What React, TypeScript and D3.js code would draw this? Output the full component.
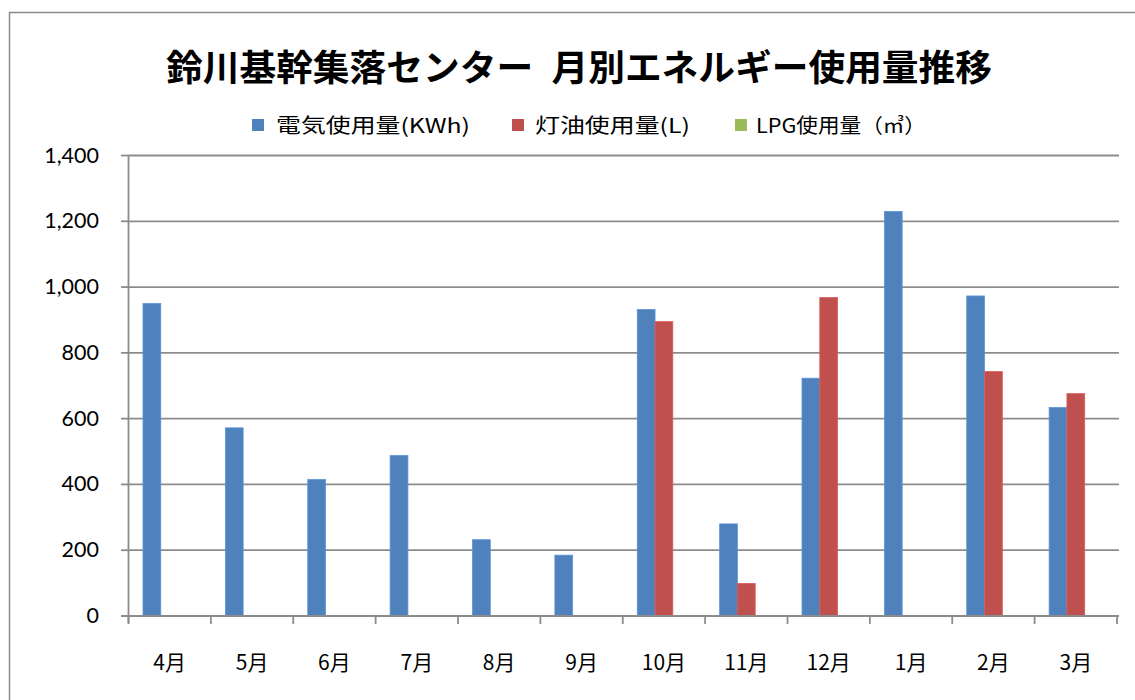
import React from "react";
import * as d3 from "d3";

const title = "鈴川基幹集落センター\u2002月別エネルギー使用量推移";
const months = ["4月", "5月", "6月", "7月", "8月", "9月", "10月", "11月", "12月", "1月", "2月", "3月"];
const seriesNames = ["電気使用量(KWh)", "灯油使用量(L)", "LPG使用量（㎥）"];
const seriesColors = ["#4F81BD", "#C0504D", "#9BBB59"];
const electricity = [950, 572, 415, 488, 232, 185, 932, 280, 723, 1230, 973, 634];
const kerosene = [0, 0, 0, 0, 0, 0, 895, 99, 968, 0, 743, 676];
const lpg = [0, 0, 0, 0, 0, 0, 0, 0, 0, 0, 0, 0];
const yTicks = [0, 200, 400, 600, 800, 1000, 1200, 1400];

const W = 1135;
const H = 700;
const left = 128.5;
const right = 1117;
const top = 155.5;
const bottom = 616;

export default function App() {
  const x0 = d3
    .scaleBand<string>()
    .domain(months)
    .range([left, right])
    .paddingInner(0.352)
    .paddingOuter(0.176);
  const x1 = d3
    .scaleBand<number>()
    .domain([0, 1, 2])
    .range([0, x0.bandwidth()]);
  const y = d3.scaleLinear().domain([0, 1400]).range([bottom, top]);
  const fmt = d3.format(",");
  const step = x0.step();
  const series = [electricity, kerosene, lpg];
  const boundaries = d3.range(months.length + 1).map((i) => left + i * step);

  const legendItems = [
    { sx: 252, tx: 276, tw: 194 },
    { sx: 512, tx: 535, tw: 155 },
    { sx: 735, tx: 756, tw: 170 },
  ];

  return (
    <svg
      width={W}
      height={H}
      style={{ position: "absolute", left: 0, top: 0, background: "#fff" }}
    >
      <rect x={9.5} y={12.5} width={W} height={H} fill="#fff" stroke="#8a8a8a" strokeWidth={1.5} />
      <text
        x={579}
        y={81}
        textAnchor="middle"
        fontFamily="'Noto Sans CJK JP'"
        fontWeight={700}
        fontSize={36}
        textLength={826}
        lengthAdjust="spacingAndGlyphs"
        fill="#000"
      >
        {title}
      </text>
      {legendItems.map((l, i) => (
        <g key={i}>
          <rect x={l.sx} y={119} width={12} height={12} fill={seriesColors[i]} />
          <text
            x={l.tx}
            y={133}
            fontFamily="'Noto Sans CJK JP'"
            fontSize={20}
            textLength={l.tw}
            lengthAdjust="spacingAndGlyphs"
            fill="#000"
          >
            {seriesNames[i]}
          </text>
        </g>
      ))}
      {yTicks.map((t) => (
        <g key={t}>
          {t > 0 && (
            <line x1={left} x2={1119} y1={y(t)} y2={y(t)} stroke="#8c8c8c" strokeWidth={1.8} />
          )}
          <line x1={121} x2={left} y1={y(t)} y2={y(t)} stroke="#8c8c8c" strokeWidth={1.8} />
          <text
            x={99}
            y={y(t) + 7}
            textAnchor="end"
            fontFamily="Lato"
            fontSize={21.5}
            fill="#000"
          >
            {fmt(t)}
          </text>
        </g>
      ))}
      {months.map((m, i) =>
        series.map((s, j) => {
          const v = s[i];
          const h = bottom - y(v);
          if (h <= 0) return null;
          return (
            <rect
              key={m + j}
              x={(x0(m) as number) + (x1(j) as number)}
              y={y(v)}
              width={x1.bandwidth()}
              height={h}
              fill={seriesColors[j]}
              stroke={d3.color(seriesColors[j])!.brighter(0.4).toString()}
              strokeWidth={0.8}
            />
          );
        })
      )}
      <line x1={left} x2={left} y1={top} y2={bottom + 7} stroke="#8c8c8c" strokeWidth={1.8} />
      <line x1={121} x2={1119} y1={bottom} y2={bottom} stroke="#8c8c8c" strokeWidth={1.8} />
      {boundaries.map((bx, i) => (
        <line key={i} x1={bx} x2={bx} y1={bottom} y2={bottom + 8} stroke="#8c8c8c" strokeWidth={1.8} />
      ))}
      {months.map((m) => (
        <text
          key={m}
          x={(x0(m) as number) + x0.bandwidth() / 2}
          y={670}
          textAnchor="middle"
          fontFamily="'Noto Sans CJK JP'"
          fontSize={21}
          fill="#000"
        >
          {m}
        </text>
      ))}
    </svg>
  );
}
